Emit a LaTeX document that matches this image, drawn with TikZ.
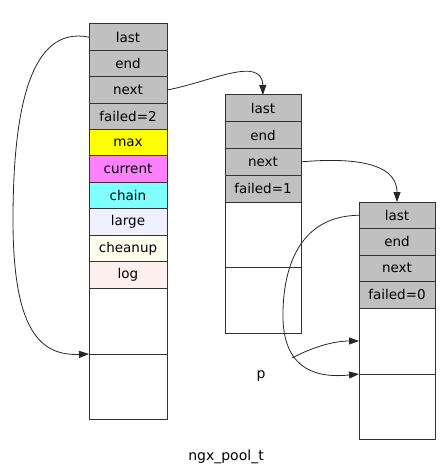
\documentclass[tikz,border=0pt]{standalone}
\usepackage{fontspec}
\setmainfont{DejaVu Sans}
\usetikzlibrary{arrows.meta}
\definecolor{cgray}{HTML}{C0C0C0}
\definecolor{cmax}{HTML}{FFFF00}
\definecolor{ccur}{HTML}{FF80FF}
\definecolor{cchain}{HTML}{80FFFF}
\definecolor{clarge}{HTML}{F0F0FF}
\definecolor{cclean}{HTML}{FFFFF0}
\definecolor{clog}{HTML}{FFF0F0}
\definecolor{cline}{HTML}{333333}
\tikzset{
  cell/.style={draw=cline, line width=1pt, anchor=north west, inner sep=0pt, outer sep=0pt,
    font=\fontsize{13.5}{16}\selectfont},
  conn/.style={draw=black!85, line width=0.8pt, -{Triangle[length=10pt,width=7pt]}},
  lbl/.style={font=\fontsize{14}{16}\selectfont, inner sep=0pt}
}
\begin{document}
\begin{tikzpicture}[x=1pt,y=-1pt]
\useasboundingbox (0,0) rectangle (443,470);
% column 1
\foreach \n/\t/\c [count=\i from 0] in {a1/last/cgray,a2/end/cgray,a3/next/cgray,a4/failed=2/cgray,a5/max/cmax,a6/current/ccur,a7/chain/cchain,a8/large/clarge,a9/cheanup/cclean,a10/log/clog}{
  \node[cell, fill=\c, minimum width=78pt, minimum height=26.4pt] (\n) at (89,24+26.4*\i) {\t};
}
\node[cell, fill=white, minimum width=78pt, minimum height=66pt] (a11) at (89,288) {};
\node[cell, fill=white, minimum width=78pt, minimum height=65pt] (a12) at (89,354) {};
% column 2
\foreach \n/\t [count=\i from 0] in {b1/last,b2/end,b3/next,b4/failed=1}{
  \node[cell, fill=cgray, minimum width=76pt, minimum height=26.75pt] (\n) at (225,95+26.75*\i) {\t};
}
\node[cell, fill=white, minimum width=76pt, minimum height=65pt] (b5) at (225,202) {};
\node[cell, fill=white, minimum width=76pt, minimum height=66pt] (b6) at (225,267) {};
% column 3
\foreach \n/\t [count=\i from 0] in {c1/last,c2/end,c3/next,c4/failed=0}{
  \node[cell, fill=cgray, minimum width=76pt, minimum height=26.5pt] (\n) at (359,202+26.5*\i) {\t};
}
\node[cell, fill=white, minimum width=76pt, minimum height=66pt] (c5) at (359,308) {};
\node[cell, fill=white, minimum width=76pt, minimum height=65pt] (c6) at (359,374) {};
% labels
\node[lbl] (p) at (261,376) {p};
\node[lbl] (title) at (226,457) {ngx\_pool\_t};
\coordinate (pstart) at (292,358);
% connectors
\draw[conn] (a1.west) .. controls (30,25) and (13,110) .. (13,220) .. controls (13,330) and (40,356) .. (a12.north west);
\draw[conn] (a3.east) .. controls (210,82) and (262,55) .. (b1.north);
\draw[conn] (b3.east) .. controls (345,158) and (397,160) .. (c1.north);
\draw[conn] (c1.west) .. controls (295,216) and (282,275) .. (283,320) .. controls (285,372) and (320,378) .. (c6.north west);
\draw[conn] (pstart) .. controls (315,346) and (335,341) .. (c5.west);
\end{tikzpicture}
\end{document}
